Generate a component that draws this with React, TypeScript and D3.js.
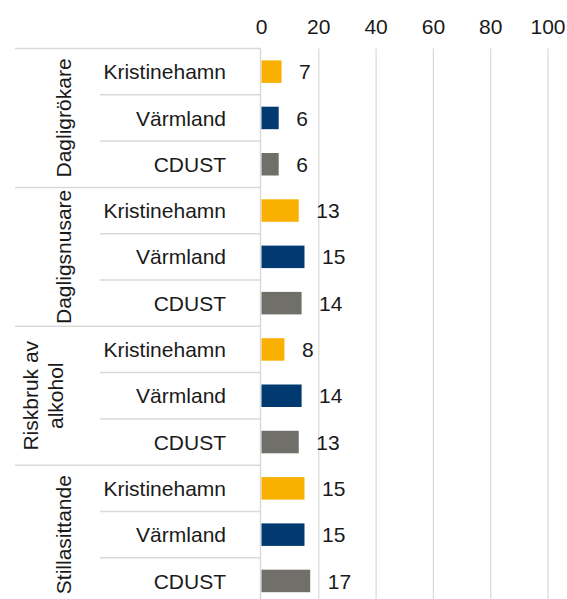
import React from 'react';
import * as d3 from 'd3';

const groups = ['Dagligrökare', 'Dagligsnusare', 'Riskbruk av alkohol', 'Stillasittande'];
const groupLines = [['Dagligrökare'], ['Dagligsnusare'], ['Riskbruk av', 'alkohol'], ['Stillasittande']];
const regions = ['Kristinehamn', 'Värmland', 'CDUST'];
const kristinehamn = [7, 13, 8, 15];
const varmland = [6, 15, 14, 15];
const cdust = [6, 14, 13, 17];
const xTicks = [0, 20, 40, 60, 80, 100];

const colors: Record<string, string> = {
  Kristinehamn: '#F9B000',
  Värmland: '#003A70',
  CDUST: '#706F6A',
};

const W = 567;
const H = 599;
const FONT = 'Liberation Sans, Arial, sans-serif';

export default function App() {
  const seriesValues = [kristinehamn, varmland, cdust];
  const rows = groups.flatMap((g, gi) =>
    regions.map((r, ri) => ({ key: `${g}|${r}`, group: g, gi, region: r, value: seriesValues[ri][gi] }))
  );

  const top = 48.5;
  const rowH = 46.3;
  const x = d3.scaleLinear().domain([0, 100]).range([261.5, 548]);
  const y = d3
    .scaleBand<string>()
    .domain(rows.map((d) => d.key))
    .range([top, top + rowH * rows.length])
    .padding(0);
  const barH = 22.5;
  const axisX = 260.5;

  return (
    <svg width={W} height={H} style={{ position: 'absolute', left: 0, top: 0 }} fontFamily={FONT}>
      <rect width={W} height={H} fill="#fff" />
      {/* gridlines */}
      {xTicks.slice(1).map((t) => (
        <line key={t} x1={x(t)} x2={x(t)} y1={top} y2={H} stroke="#d9d9d9" strokeWidth={1.2} />
      ))}
      {/* tick labels */}
      {xTicks.map((t) => (
        <text key={t} x={x(t)} y={34} textAnchor="middle" fontSize={21} fill="#1a1a1a">
          {t}
        </text>
      ))}
      {/* table lines */}
      {rows.map((d, i) => {
        const yy = y(d.key)!;
        const isGroupStart = i % 3 === 0;
        return (
          <line
            key={'l' + d.key}
            x1={isGroupStart ? 15 : 100}
            x2={axisX}
            y1={yy}
            y2={yy}
            stroke="#d9d9d9"
            strokeWidth={1.5}
          />
        );
      })}
      <line x1={axisX} x2={axisX} y1={top} y2={H} stroke="#d9d9d9" strokeWidth={1.5} />
      {/* bars */}
      {rows.map((d) => {
        const cy = y(d.key)! + y.bandwidth() / 2;
        return (
          <g key={'b' + d.key}>
            <rect x={x(0)} y={cy - barH / 2} width={x(d.value) - x(0)} height={barH} fill={colors[d.region]} />
            <text x={x(d.value) + 17.5} y={cy} dy="0.36em" fontSize={21} fill="#1a1a1a">
              {d.value}
            </text>
            <text x={226} y={cy} dy="0.36em" textAnchor="end" fontSize={21} fill="#1a1a1a">
              {d.region}
            </text>
          </g>
        );
      })}
      {/* group labels */}
      {groups.map((g, gi) => {
        const y0 = y(`${g}|${regions[0]}`)!;
        const cy = y0 + (y.bandwidth() * 3) / 2;
        const lines = groupLines[gi];
        const lh = 25;
        const cx = lines.length > 1 ? 30 : 63;
        return (
          <g key={'g' + g}>
            {lines.map((ln, li) => (
              <text
                key={ln}
                transform={`translate(${cx + li * lh},${cy}) rotate(-90)`}
                textAnchor="middle"
                dy="0.36em"
                fontSize={21}
                fill="#1a1a1a"
              >
                {ln}
              </text>
            ))}
          </g>
        );
      })}
    </svg>
  );
}
